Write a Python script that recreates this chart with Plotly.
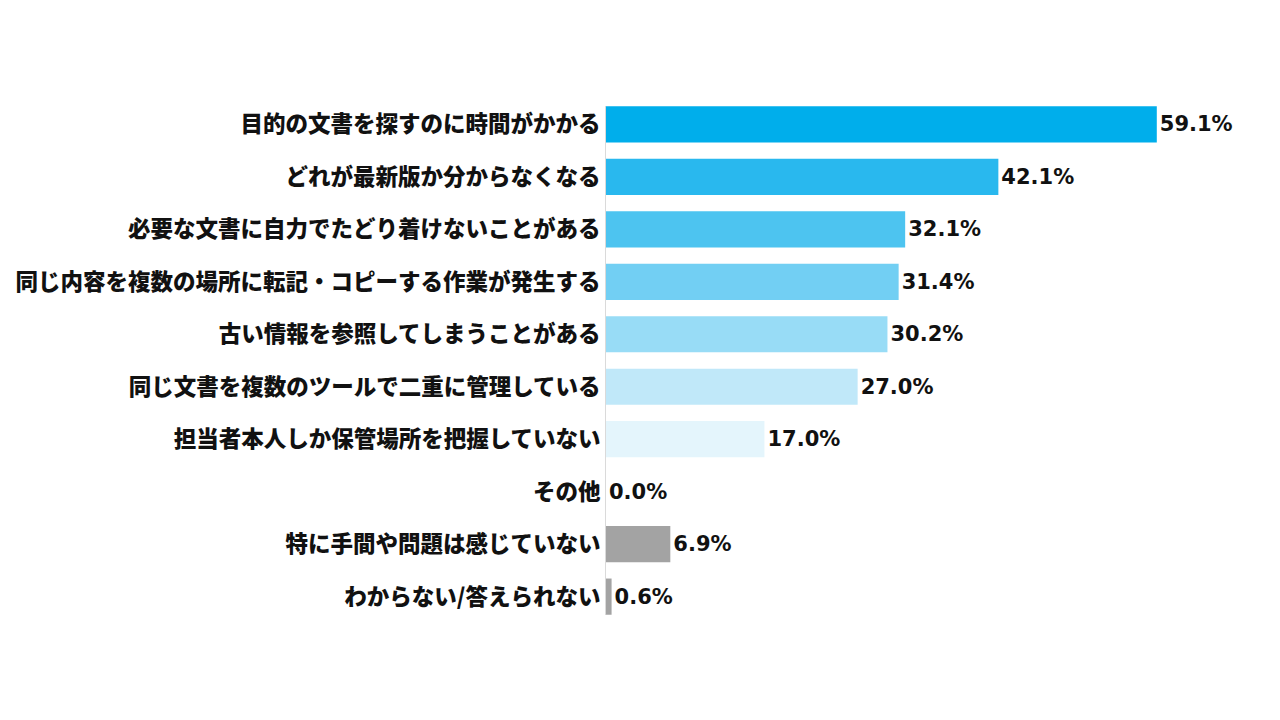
import plotly.graph_objects as go

categories = [
    "目的の文書を探すのに時間がかかる",
    "どれが最新版か分からなくなる",
    "必要な文書に自力でたどり着けないことがある",
    "同じ内容を複数の場所に転記・コピーする作業が発生する",
    "古い情報を参照してしまうことがある",
    "同じ文書を複数のツールで二重に管理している",
    "担当者本人しか保管場所を把握していない",
    "その他",
    "特に手間や問題は感じていない",
    "わからない/答えられない",
]
values = [59.1, 42.1, 32.1, 31.4, 30.2, 27.0, 17.0, 0.0, 6.9, 0.6]
colors = ["#00AEEB", "#29B8EE", "#4DC4F0", "#72CFF3", "#98DCF6",
          "#C0E8F9", "#E4F5FC", "#E4F5FC", "#A3A3A3", "#A3A3A3"]
value_labels = [f"{v:.1f}%" for v in values]

fig = go.Figure(go.Bar(
    x=values,
    y=categories,
    orientation="h",
    marker=dict(color=colors, line=dict(width=0)),
    width=0.69,
    text=value_labels,
    textposition="outside",
    textfont=dict(family="DejaVu Sans", size=21, color="#111111", weight="bold"),
    cliponaxis=False,
))

fig.update_layout(
    width=1280, height=720,
    paper_bgcolor="white", plot_bgcolor="white",
    margin=dict(l=598, r=38, t=97.6, b=112.6, autoexpand=False),
    showlegend=False,
    xaxis=dict(range=[0, 69.1], visible=False, fixedrange=True),
    yaxis=dict(
        range=[9.35, -0.35],
        automargin=False,
        showgrid=False, zeroline=False,
        showline=True, linecolor="#DADADA", linewidth=1,
        ticks="", ticklabelstandoff=0,
        tickfont=dict(family="Noto Sans CJK JP", size=22.5, color="#111111", weight=900),
    ),
)

fig.write_html("out.html")
